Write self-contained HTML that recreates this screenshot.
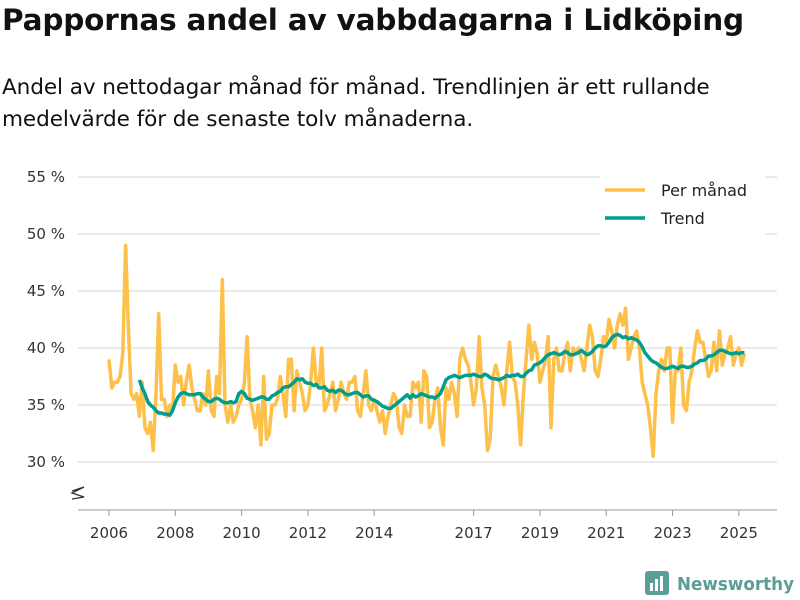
<!DOCTYPE html>
<html><head><meta charset="utf-8"><style>
body{margin:0;width:800px;height:600px;background:#fff;font-family:"Liberation Sans","DejaVu Sans",sans-serif;overflow:hidden;position:relative}
#title{position:absolute;left:2px;top:3px;font-size:29.5px;font-weight:bold;color:#111;font-family:"DejaVu Sans",sans-serif;letter-spacing:-0.2px;white-space:nowrap}
#sub{position:absolute;left:2px;top:72px;font-size:21.6px;line-height:32px;color:#111;font-family:"DejaVu Sans",sans-serif;letter-spacing:-0.1px;white-space:nowrap}
svg{position:absolute;left:0;top:0}
</style></head><body>
<div id="title">Pappornas andel av vabbdagarna i Lidköping</div>
<div id="sub">Andel av nettodagar månad för månad. Trendlinjen är ett rullande<br>medelvärde för de senaste tolv månaderna.</div>
<svg id="chart" width="800" height="600"></svg>
<script>
const yTicks=[30,35,40,45,50,55];
const xTickYears=[2006,2008,2010,2012,2014,2017,2019,2021,2023,2025];
const startYear=2006;
const monthly=[
39,36.5,37,37,37.5,39.5,49,42,36,35.5,36,34,
37,33,32.5,33.5,31,36,43,35.5,35.5,34,35,34.5,
38.5,37,37.5,35,37,38.5,36.5,35.5,34.5,34.5,36,35,
38,34.5,34,37.5,36,46,35,33.5,35,33.5,34,35,
35.5,37,41,35.5,34.5,33,35,31.5,37.5,32,32.5,35,
35,35.5,37.5,36,34,39,39,34.5,38,37,36,34.5,
35,37,40,37,36.5,40,34.5,35,36,37,34.5,35.5,
37,36,35.5,37,37,37.5,34.5,34,36,38,35,34.5,
35.5,34.5,33.5,34.5,32.5,34,35,36,35.5,33,32.5,35,
34,34,37,36.5,37,33.5,38,37.5,33,33.5,35.5,36.5,
33,31.5,36.5,35.5,37,36,34,39,40,39,38.5,37,
35,36.5,41,36.5,35,31,32,37.5,38.5,37.5,36.5,35,
38,40.5,37.5,37,35,31.5,36,39,42,39,40.5,39.5,
37,38,39,41,33,39,40,38,38,39.5,40.5,38,
40,39.5,40,39,38,40,42,41,38,37.5,39,41,
40.5,42.5,41.5,40,42,43,42,43.5,39,40,41,41.5,
40,37,36,35,33,30.5,36,38,39,38,40,40,
33.5,38,38,40,35,34.5,37,38,40,41.5,40.5,40.5,
39,37.5,38,40.5,38,41.5,38.5,39.5,40,41,38.5,39.5,
40,38.5,39.5
];
const trendStartIndex=11;
const trend=[
37.2,
36.5,36,35.3,35,34.8,34.5,34.3,34.3,34.2,34.2,34.1,34.5,
35.2,35.7,36,36.1,36,35.9,35.9,35.9,36,36,35.7,35.5,
35.3,35.3,35.5,35.6,35.5,35.3,35.2,35.2,35.3,35.2,35.3,36,
36.2,36,35.6,35.5,35.4,35.5,35.6,35.7,35.7,35.5,35.5,35.8,
35.9,36.1,36.2,36.5,36.6,36.6,36.8,37,37.3,37.2,37.3,37,
36.9,36.9,36.7,36.8,36.5,36.5,36.6,36.3,36.2,36.3,36.1,36.3,
36.3,36.1,35.9,35.9,36,36.1,36.1,35.9,35.7,35.8,35.8,35.5,
35.4,35.3,35.1,34.9,34.8,34.7,34.7,34.9,35.1,35.3,35.5,35.7,
35.9,35.6,35.9,35.7,35.8,36,35.9,35.8,35.7,35.7,35.6,35.8,
36,36.6,37.2,37.4,37.5,37.6,37.5,37.4,37.5,37.6,37.6,37.6,
37.7,37.6,37.5,37.5,37.7,37.6,37.4,37.3,37.3,37.2,37.3,37.4,
37.6,37.5,37.6,37.6,37.7,37.5,37.5,37.8,38,38.1,38.5,38.6,
38.7,38.9,39.2,39.4,39.5,39.6,39.5,39.4,39.5,39.7,39.6,39.4,
39.4,39.5,39.6,39.8,39.6,39.4,39.5,39.7,40,40.2,40.2,40.1,
40.2,40.5,40.9,41.1,41.2,41.1,40.9,41,40.8,40.9,40.8,40.7,
40.5,40.1,39.6,39.3,39,38.8,38.7,38.5,38.3,38.2,38.2,38.3,
38.4,38.3,38.2,38.4,38.4,38.3,38.3,38.4,38.6,38.7,38.9,38.9,
39,39.3,39.3,39.4,39.6,39.8,39.8,39.7,39.6,39.5,39.5,39.6,
39.5,39.6,39.6
];
const svg=document.getElementById('chart');const NS='http://www.w3.org/2000/svg';
function X(t){return 109+(t-2006)*33.15;}
function Y(v){return 462-(v-30)*11.4;}
function el(tag,attrs,parent){const e=document.createElementNS(NS,tag);for(const k in attrs)e.setAttribute(k,attrs[k]);(parent||svg).appendChild(e);return e;}
yTicks.forEach(v=>{
const g=el('line',{x1:78,x2:777,y1:Y(v),y2:Y(v),stroke:'#ddd','stroke-width':1.3});


const t=el('text',{x:65,y:Y(v)+5,'text-anchor':'end','font-size':15,fill:'#333','font-family':'DejaVu Sans,sans-serif'});t.textContent=v+' %';


});
const ax=el('line',{x1:78,x2:777,y1:510,y2:510,stroke:'#999','stroke-width':1});


const zz=el('path',{d:'M72 491 L84 487 L72 493 L84 497 L72 499',fill:'none',stroke:'#333','stroke-width':1.3});


xTickYears.forEach(y=>{
const tk=el('line',{x1:X(y),x2:X(y),y1:510,y2:516,stroke:'#999'});


const t=el('text',{x:X(y),y:538,'text-anchor':'middle','font-size':15,fill:'#333','font-family':'DejaVu Sans,sans-serif'});t.textContent=y;


});
function path(arr,off){let d='';arr.forEach((v,i)=>{if(v==null)return;const x=X(startYear+(i+off)/12),y=Y(v);d+=(d?'L':'M')+x.toFixed(1)+' '+y.toFixed(1);});return d;}
const pm=el('path',{d:path(monthly,0),fill:'none',stroke:'#fdc04b','stroke-width':3.5,'stroke-linejoin':'round'});


const tr=el('path',{d:path(trend,trendStartIndex),fill:'none',stroke:'#009e8e','stroke-width':3.5,'stroke-linejoin':'round'});


const lg=el('g',{});


el('rect',{x:600,y:172,width:165,height:63,fill:'#fff'},lg);
el('line',{x1:605,x2:645,y1:190,y2:190,stroke:'#fdc04b','stroke-width':3.5},lg);
el('line',{x1:605,x2:645,y1:218,y2:218,stroke:'#009e8e','stroke-width':3.5},lg);
const l1=el('text',{x:661,y:196,'font-size':16,fill:'#222','font-family':'DejaVu Sans,sans-serif'},lg);l1.textContent='Per månad';


const l2=el('text',{x:661,y:224,'font-size':16,fill:'#222','font-family':'DejaVu Sans,sans-serif'},lg);l2.textContent='Trend';


const lo=el('g',{});


el('rect',{x:645,y:571,width:24,height:24,rx:3,fill:'#5a9e97'},lo);
el('rect',{x:650,y:583,width:3,height:8,fill:'#fff'},lo);
el('rect',{x:655,y:579,width:3,height:12,fill:'#fff'},lo);
el('rect',{x:660,y:576,width:3,height:15,fill:'#fff'},lo);
const lt=el('text',{x:677,y:590,'font-size':18,'font-weight':'bold',fill:'#5a9e97','font-family':'DejaVu Sans,sans-serif',textLength:117,lengthAdjust:'spacingAndGlyphs'},lo);lt.textContent='Newsworthy';
</script>
</body></html>
